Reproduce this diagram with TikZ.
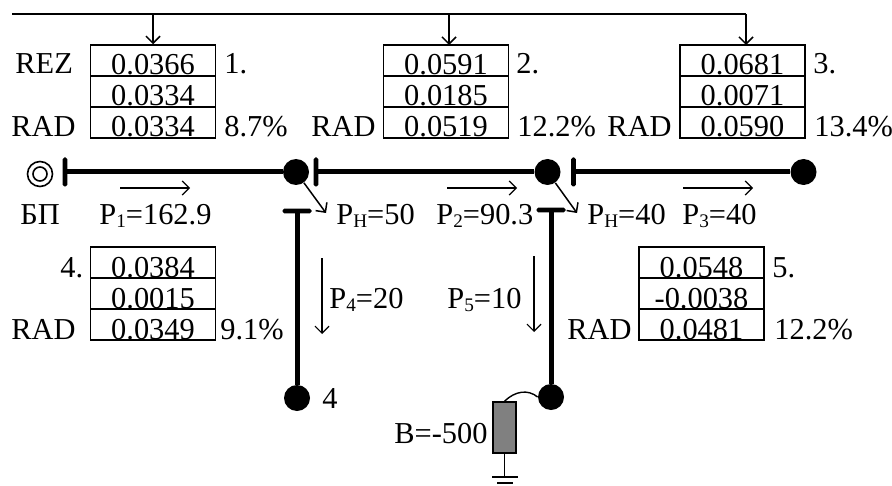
\documentclass[tikz,border=0pt]{standalone}
\usepackage{fontspec}
\setmainfont{Liberation Serif}
\usetikzlibrary{arrows.meta}

\newcommand{\lowsub}[1]{\raisebox{-1.6pt}{\fontsize{9.6}{10}\selectfont #1}}

\tikzset{
	txt/.style={anchor=base west, inner sep=0pt, font=\fontsize{15.2}{18}\selectfont},
	cell/.style={draw, line width=0.75pt, minimum width=62.5pt, inner xsep=0pt, inner ysep=0pt, text height=15pt, text depth=0.5pt, font=\fontsize{15.2}{18}\selectfont},
	busnode/.style={circle, fill=black, inner sep=0pt, minimum size=13pt},
	vbar/.style={fill=black, rounded corners=0.8pt, inner sep=0pt, minimum width=2.3pt, minimum height=14.5pt},
	hbar/.style={fill=black, rounded corners=0.8pt, inner sep=0pt, minimum width=14.5pt, minimum height=2.3pt},
	line/.style={line width=2.5pt},
	flow/.style={->, line width=0.6pt},
	>={Straight Barb[length=3.5pt, width=7pt]}
}

\begin{document}
\begin{tikzpicture}[x=0.5pt, y=-0.5pt]
	\useasboundingbox (0, 0) rectangle (892, 486);

	\node[cell] (c1a) at (153, 60.5) {0.0366};
	\node[cell] (c1b) at (153, 91.5) {0.0334};
	\node[cell] (c1c) at (153, 122.5) {0.0334};
	\node[cell] (c2a) at (446, 60.5) {0.0591};
	\node[cell] (c2b) at (446, 91.5) {0.0185};
	\node[cell] (c2c) at (446, 122.5) {0.0519};
	\node[cell] (c3a) at (742.5, 60.5) {0.0681};
	\node[cell] (c3b) at (742.5, 91.5) {0.0071};
	\node[cell] (c3c) at (742.5, 122.5) {0.0590};
	\node[cell] (c4a) at (153, 262.5) {0.0384};
	\node[cell] (c4b) at (153, 293.5) {0.0015};
	\node[cell] (c4c) at (153, 324.5) {0.0349};
	\node[cell] (c5a) at (701.5, 262.5) {0.0548};
	\node[cell] (c5b) at (701.5, 293.5) {-0.0038};
	\node[cell] (c5c) at (701.5, 324.5) {0.0481};

	\node[txt] (rez1) at (15, 74) {REZ};
	\node[txt] (rad1) at (11, 137) {RAD};
	\node[txt] (num1) at (224, 74) {1.};
	\node[txt] (pct1) at (224, 137) {8.7\%};
	\node[txt] (rad2) at (311, 137) {RAD};
	\node[txt] (num2) at (516, 74) {2.};
	\node[txt] (pct2) at (517, 137) {12.2\%};
	\node[txt] (rad3) at (607, 137) {RAD};
	\node[txt] (num3) at (813, 74) {3.};
	\node[txt] (pct3) at (814, 137) {13.4\%};
	\node[txt] (num4) at (60, 277) {4.};
	\node[txt] (rad4) at (11, 339) {RAD};
	\node[txt] (pct4) at (220, 339) {9.1\%};
	\node[txt] (num5) at (772, 277) {5.};
	\node[txt] (rad5) at (567, 339) {RAD};
	\node[txt] (pct5) at (774, 339) {12.2\%};

	\coordinate (topl) at (12, 14);
	\coordinate (topr) at (746, 14);
	\draw[line width=1pt] (topl) -- (topr);
	\draw[->, line width=0.75pt] (c1a.north |- topl) -- (c1a.north);
	\draw[->, line width=0.75pt] (449, 14) -- (449, 45);
	\draw[->, line width=0.75pt] (topr) -- (746, 45);

	\node[circle, draw, line width=0.8pt, minimum size=12.5pt, inner sep=0pt] (src) at (40, 174) {};
	\node[circle, draw, line width=0.8pt, minimum size=7pt, inner sep=0pt] (srcin) at (40, 174) {};
	\node[vbar] (s1) at (65, 172) {};
	\node[vbar] (s2) at (316, 172) {};
	\node[vbar] (s3) at (573.5, 172) {};
	\node[hbar] (s4) at (297, 211) {};
	\node[hbar] (s5) at (551, 210) {};
	\node[busnode] (n1) at (296, 172) {};
	\node[busnode] (n2) at (547.5, 172) {};
	\node[busnode] (n3) at (803.5, 172) {};
	\node[busnode] (n4) at (297, 398) {};
	\node[busnode] (n5) at (551, 397) {};
	\draw[line] (s1.center) -- (n1);
	\draw[line] (s2.center) -- (n2);
	\draw[line] (s3.center) -- (n3);
	\draw[line] (s4.center) -- (n4);
	\draw[line] (s5.center) -- (n5);

	\coordinate (l1) at (326, 213);
	\coordinate (l2) at (577, 213);
	\draw[flow, line width=0.75pt] (n1) -- (l1);
	\draw[flow, line width=0.75pt] (n2) -- (l2);
	\draw[flow] (120, 188) -- (190, 188);
	\draw[flow] (447, 188) -- (517, 188);
	\draw[flow] (683, 188) -- (753, 188);
	\draw[flow] (322, 258) -- (322, 334);
	\draw[flow] (534, 256) -- (534, 332);

	\node[txt] (bp) at (20, 224) {БП};
	\node[txt] (p1) at (99, 224) {P\lowsub{1}=162.9};
	\node[txt] (ph1) at (336, 224) {P\lowsub{H}=50};
	\node[txt] (p2) at (436, 224) {P\lowsub{2}=90.3};
	\node[txt] (ph2) at (587, 224) {P\lowsub{H}=40};
	\node[txt] (p3) at (682, 224) {P\lowsub{3}=40};
	\node[txt] (p4) at (329, 308) {P\lowsub{4}=20};
	\node[txt] (p5) at (447, 308) {P\lowsub{5}=10};
	\node[txt] (lab4) at (322, 408) {4};
	\node[txt] (bval) at (394, 443) {B=-500};

	\node[draw, fill=black!50, line width=0.75pt, inner sep=0pt, minimum width=11.5pt, minimum height=25.5pt] (cap) at (504.5, 427.5) {};
	\draw[line width=0.7pt] (cap.north) .. controls (515, 391) and (528, 389) .. (n5.west);
	\coordinate (gnd) at (504.5, 477);
	\coordinate (gl) at (492, 477);
	\coordinate (gr) at (518, 477);
	\coordinate (hl) at (497, 483);
	\coordinate (hr) at (513, 483);
	\draw[line width=0.7pt] (cap.south) -- (gnd);
	\draw[line width=0.8pt] (gl) -- (gr);
	\draw[line width=0.8pt] (hl) -- (hr);
\end{tikzpicture}
\end{document}
